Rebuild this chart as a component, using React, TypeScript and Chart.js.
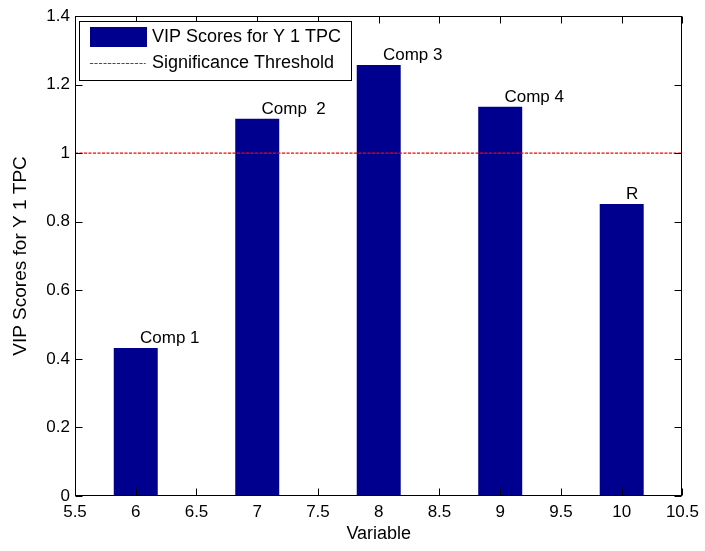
import React, { useEffect, useRef } from 'react';
import { Chart, registerables } from 'chart.js';

Chart.register(...registerables);

const variables = [6, 7, 8, 9, 10];
const vipScores = [0.432, 1.1, 1.257, 1.135, 0.852];
const barLabels = ['Comp 1', 'Comp  2', 'Comp 3', 'Comp 4', 'R'];
const thresholdValue = 1;
const xRange = [5.5, 10.5];
const yRange = [0, 1.4];
const seriesName = 'VIP Scores for Y 1 TPC';
const thresholdName = 'Significance Threshold';
const xTitle = 'Variable';
const yTitle = 'VIP Scores for Y 1 TPC';

const FAMILY = '"Liberation Sans", Arial, Helvetica, sans-serif';
const FONT_SIZE = 17;
const BAR_COLOR = '#00008f';
const LINE_COLOR = '#ff0000';

const fmt = (v: any) => String(parseFloat(Number(v).toFixed(2)));

const matlabPlugin = {
  id: 'matlabDecor',
  afterDatasetsDraw(chart: any) {
    const { ctx, chartArea: a, scales } = chart;
    const x = scales.x;
    const y = scales.y;
    ctx.save();
    // bar text labels
    ctx.font = `${FONT_SIZE}px ${FAMILY}`;
    ctx.fillStyle = '#000';
    ctx.textAlign = 'left';
    ctx.textBaseline = 'middle';
    variables.forEach((v, i) => {
      ctx.fillText(barLabels[i], x.getPixelForValue(v + 0.035), y.getPixelForValue(vipScores[i]) - 10);
    });
    // axes box
    const L = Math.round(a.left) + 0.5;
    const R = Math.round(a.right) - 0.5;
    const T = Math.round(a.top) + 0.5;
    const B = Math.round(a.bottom) - 0.5;
    ctx.strokeStyle = '#000';
    ctx.lineWidth = 1;
    ctx.setLineDash([]);
    ctx.strokeRect(L, T, R - L, B - T);
    // inward ticks
    const tl = 7;
    ctx.beginPath();
    x.ticks.forEach((t: any) => {
      const px = Math.round(x.getPixelForValue(t.value)) + 0.5;
      ctx.moveTo(px, B);
      ctx.lineTo(px, B - tl);
      ctx.moveTo(px, T);
      ctx.lineTo(px, T + tl);
    });
    y.ticks.forEach((t: any) => {
      const py = Math.round(y.getPixelForValue(t.value)) + 0.5;
      ctx.moveTo(L, py);
      ctx.lineTo(L + tl, py);
      ctx.moveTo(R, py);
      ctx.lineTo(R - tl, py);
    });
    ctx.stroke();
    ctx.restore();
  },
  afterDraw(chart: any) {
    const { ctx, chartArea: a } = chart;
    const ds = chart.data.datasets;
    ctx.save();
    const bx = a.left + 4.5;
    const by = a.top + 5.5;
    const bw = 272;
    const bh = 59;
    ctx.fillStyle = '#fff';
    ctx.fillRect(bx, by, bw, bh);
    ctx.strokeStyle = '#000';
    ctx.lineWidth = 1;
    ctx.strokeRect(bx, by, bw, bh);
    // entry 1: bar swatch
    ctx.fillStyle = BAR_COLOR;
    ctx.fillRect(bx + 10.5, by + 5.5, 57, 20);
    // entry 2: dashed line
    ctx.strokeStyle = LINE_COLOR;
    ctx.lineWidth = 1;
    ctx.setLineDash([3, 1.5]);
    ctx.beginPath();
    ctx.moveTo(bx + 10.5, by + 42);
    ctx.lineTo(bx + 66, by + 42);
    ctx.stroke();
    ctx.setLineDash([]);
    ctx.fillStyle = '#000';
    ctx.font = `${FONT_SIZE + 1}px ${FAMILY}`;
    ctx.textAlign = 'left';
    ctx.textBaseline = 'middle';
    ctx.fillText(ds[0].label, bx + 72.5, by + 16);
    ctx.fillText(ds[1].label, bx + 72.5, by + 42);
    ctx.restore();
  },
};

export default function App() {
  const canvasRef = useRef<HTMLCanvasElement | null>(null);

  useEffect(() => {
    if (!canvasRef.current) return;
    const tickFont = { family: FAMILY, size: FONT_SIZE };
    const chart = new Chart(canvasRef.current, {
      type: 'bar',
      data: {
        datasets: [
          {
            type: 'bar',
            label: seriesName,
            data: variables.map((v, i) => ({ x: v, y: vipScores[i] })),
            backgroundColor: BAR_COLOR,
            borderWidth: 0,
            barPercentage: 0.724,
            categoryPercentage: 1,
            order: 2,
          } as any,
          {
            type: 'line',
            label: thresholdName,
            data: xRange.map((v) => ({ x: v, y: thresholdValue })),
            borderColor: LINE_COLOR,
            borderWidth: 1.2,
            borderDash: [3, 1.5],
            pointRadius: 0,
            fill: false,
            order: 1,
          } as any,
        ],
      },
      options: {
        animation: false,
        responsive: true,
        maintainAspectRatio: false,
        layout: { padding: { left: 0, top: 16, right: 22, bottom: 0 } },
        plugins: {
          legend: { display: false },
          tooltip: { enabled: false },
        },
        scales: {
          x: {
            type: 'linear',
            min: xRange[0],
            max: xRange[1],
            offset: false,
            grid: { display: false, drawTicks: false, offset: false },
            border: { display: false },
            ticks: { stepSize: 0.5, color: '#000', font: tickFont, padding: 6, maxRotation: 0, autoSkip: false, callback: fmt },
            title: { display: true, text: xTitle, color: '#000', font: { family: FAMILY, size: 18 }, padding: { top: 0, bottom: 6 } },
            afterFit: (s: any) => { s.height = 55; },
          },
          y: {
            type: 'linear',
            min: yRange[0],
            max: yRange[1],
            grid: { display: false, drawTicks: false },
            border: { display: false },
            ticks: { stepSize: 0.2, color: '#000', font: tickFont, padding: 5, callback: fmt },
            title: { display: true, text: yTitle, color: '#000', font: { family: FAMILY, size: 19 }, padding: { top: 9, bottom: 0 } },
            afterFit: (s: any) => { s.width = 75; },
          },
        },
      } as any,
      plugins: [matlabPlugin],
    });
    return () => chart.destroy();
  }, []);

  return (
    <div style={{ position: 'absolute', left: 0, top: 0, width: 705, height: 551, background: '#fff' }}>
      <canvas ref={canvasRef} />
    </div>
  );
}
